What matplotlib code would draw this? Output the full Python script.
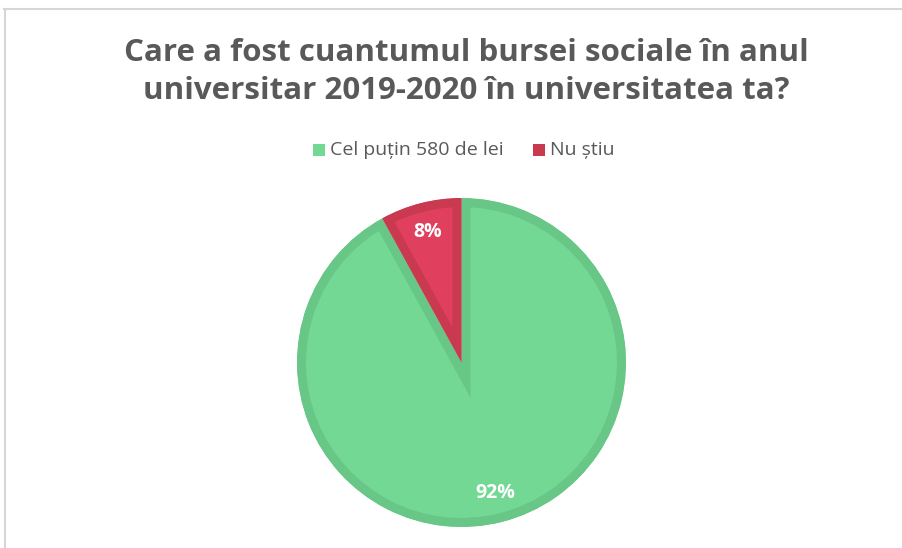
import matplotlib
matplotlib.use("Agg")
import matplotlib.pyplot as plt
from matplotlib.lines import Line2D
from matplotlib.patches import Rectangle

categories = ["Cel puțin 580 de lei", "Nu știu"]
values = [92, 8]
title_lines = ["Care a fost cuantumul bursei sociale în anul",
               "universitar 2019-2020 în universitatea ta?"]

face_colors = ["#72D894", "#E0405E"]
edge_colors = ["#68C687", "#C9394F"]

W, H = 902, 548
fig = plt.figure(figsize=(W / 100, H / 100), dpi=100)
fig.patch.set_facecolor("white")

ax = fig.add_axes([0, 0, 1, 1])
ax.set_xlim(0, W)
ax.set_ylim(0, H)
ax.set_aspect("equal")
ax.axis("off")

def py(y):
    return H - y

wedges, texts, autotexts = ax.pie(
    values, colors=face_colors, startangle=90, counterclock=False,
    center=(461.5, py(362.5)), radius=164.5, frame=True,
    autopct=lambda p: f"{p:.0f}%", pctdistance=0.82,
    textprops=dict(color="white", fontsize=14, fontweight="bold", family="Open Sans"),
    wedgeprops=dict(linewidth=13),
)
for w, ec in zip(wedges, edge_colors):
    w.set_edgecolor(ec)
    w.set_clip_on(True)
    w.set_clip_path(w.get_path(), w.get_transform())  # keep the border inside each slice
for t in autotexts:
    t.set_zorder(5)
ax.set_xlim(0, W)
ax.set_ylim(0, H)
ax.axis("off")

# border lines (top and left)
fig.add_artist(Line2D([4 / W, 1], [py(8.5) / H, py(8.5) / H], color="#D6D6D6", lw=1.5))
fig.add_artist(Line2D([4.5 / W, 4.5 / W], [0, py(8.5) / H], color="#D6D6D6", lw=1.5))

# title
for i, line in enumerate(title_lines):
    fig.text(466.5 / W, py(53 + 38 * i) / H, line, ha="center", va="center",
             fontsize=22.5, fontweight="bold", color="#595959", family="Open Sans")

# legend
leg_y = 150
items = [(313, 330, categories[0], face_colors[0]), (533, 550, categories[1], edge_colors[1])]
for sx, tx, label, col in items:
    ax.add_patch(Rectangle((sx, py(leg_y) - 6), 12, 12, facecolor=col, edgecolor="none"))
    ax.text(tx, py(leg_y), label, ha="left", va="center", fontsize=14,
            color="#595959", family="Open Sans")

fig.savefig("out.png", dpi=100, facecolor="white")
